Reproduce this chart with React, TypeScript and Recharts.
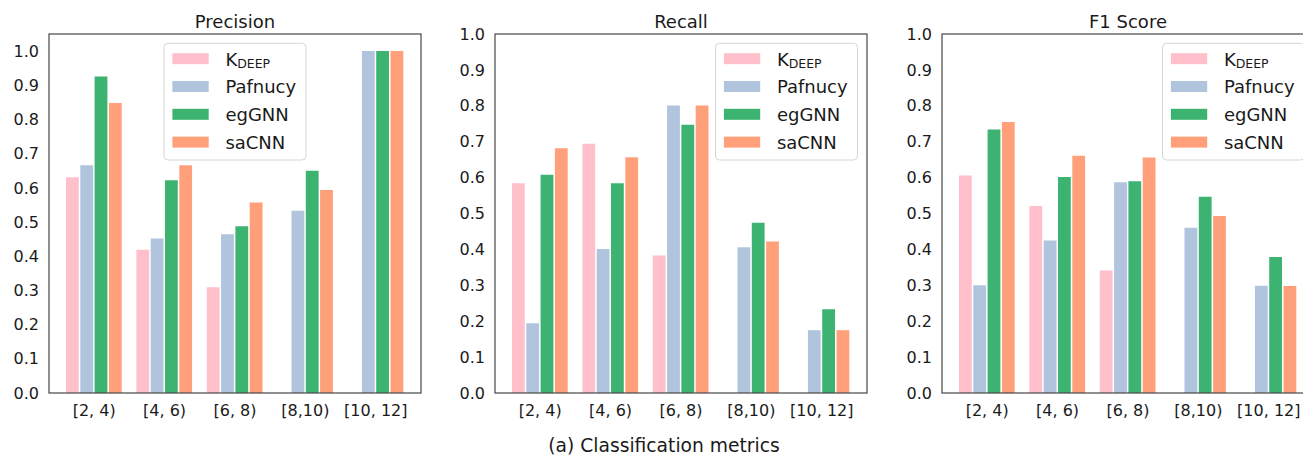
import { BarChart, Bar, XAxis, YAxis } from "recharts";

const bins = ["[2, 4)", "[4, 6)", "[6, 8)", "[8,10)", "[10, 12]"];
const models = ["KDEEP", "Pafnucy", "egGNN", "saCNN"];
const colors = ["#FFC0CB", "#B0C4DE", "#3CB371", "#FFA07A"];
const yTicks = [0, 0.1, 0.2, 0.3, 0.4, 0.5, 0.6, 0.7, 0.8, 0.9, 1.0];

// Precision
const precKdeep = [0.631, 0.419, 0.309, 0, 0];
const precPafnucy = [0.666, 0.452, 0.464, 0.533, 1.0];
const precEggnn = [0.926, 0.622, 0.488, 0.65, 1.0];
const precSacnn = [0.848, 0.666, 0.557, 0.594, 1.0];

// Recall
const recKdeep = [0.584, 0.694, 0.383, 0, 0];
const recPafnucy = [0.194, 0.401, 0.801, 0.406, 0.175];
const recEggnn = [0.608, 0.584, 0.747, 0.474, 0.233];
const recSacnn = [0.682, 0.657, 0.801, 0.422, 0.175];

// F1 score
const f1Kdeep = [0.606, 0.521, 0.341, 0, 0];
const f1Pafnucy = [0.3, 0.425, 0.587, 0.46, 0.299];
const f1Eggnn = [0.734, 0.602, 0.59, 0.547, 0.379];
const f1Sacnn = [0.755, 0.661, 0.656, 0.493, 0.298];

const font = "DejaVu Sans, sans-serif";
const spine = "#474747";

function rows(series: number[][]) {
  return bins.map((bin, i) => {
    const r: Record<string, any> = { bin };
    models.forEach((m, j) => (r[m] = series[j][i]));
    return r;
  });
}

const panels = [
  { title: "Precision", left: 0, yMax: 1.05, legend: "center", data: rows([precKdeep, precPafnucy, precEggnn, precSacnn]) },
  { title: "Recall", left: 446, yMax: 1.0, legend: "right", data: rows([recKdeep, recPafnucy, recEggnn, recSacnn]) },
  { title: "F1 Score", left: 893, yMax: 1.0, legend: "right", data: rows([f1Kdeep, f1Pafnucy, f1Eggnn, f1Sacnn]) },
];

const W = 429;
const H = 456;
const yAxisW = 49;
const xAxisH = 63;
const mRight = 8;
const mTop = 34;

function Panel({ p }: { p: (typeof panels)[number] }) {
  return (
    <div style={{ position: "absolute", left: p.left, top: 0 }}>
      <BarChart
        width={W}
        height={H}
        data={p.data}
        margin={{ top: mTop, right: mRight, bottom: 0, left: 0 }}
        barSize={12.8}
        barGap={1.5}
      >
        <XAxis
          dataKey="bin"
          height={xAxisH}
          interval={0}
          padding={{ left: 10, right: 10 }}
          tickLine={false}
          tickSize={0}
          tickMargin={12}
          axisLine={false}
          tick={{ fill: "#1a1a1a", fontSize: 16, fontFamily: font }}
        />
        <YAxis
          width={yAxisW}
          domain={[0, p.yMax]}
          ticks={yTicks}
          interval={0}
          tickLine={false}
          tickSize={0}
          tickMargin={10}
          tickFormatter={(v: number) => v.toFixed(1)}
          axisLine={false}
          tick={{ fill: "#1a1a1a", fontSize: 16, fontFamily: font }}
        />
        {models.map((m, i) => (
          <Bar key={m} dataKey={m} fill={colors[i]} isAnimationActive={false} />
        ))}
      </BarChart>
    </div>
  );
}

function Legend({ x, y }: { x: number; y: number }) {
  return (
    <g>
      <rect x={x} y={y} width={142} height={116.7} rx={4} fill="#fff" fillOpacity={0.8} stroke="#d6d6d6" />
      {models.map((m, i) => {
        const cy = y + 15.4 + i * 27.8;
        return (
          <g key={m}>
            <rect x={x + 8.4} y={cy - 5.5} width={36.3} height={11} fill={colors[i]} />
            {m === "KDEEP" ? (
              <text x={x + 61.4} y={cy + 7} fontSize={18} fontFamily={font} fill="#1a1a1a">
                K
                <tspan fontSize={12.5} dy={2}>
                  DEEP
                </tspan>
              </text>
            ) : (
              <text x={x + 61.4} y={cy + 6.6} fontSize={18} fontFamily={font} fill="#1a1a1a">
                {m}
              </text>
            )}
          </g>
        );
      })}
    </g>
  );
}

export default function App() {
  return (
    <div style={{ position: "absolute", left: 0, top: 0, width: 1303, height: 456, overflow: "hidden", background: "#fff" }}>
      {panels.map((p) => (
        <Panel key={p.title} p={p} />
      ))}
      <svg width={1303} height={456} style={{ position: "absolute", left: 0, top: 0, pointerEvents: "none" }}>
        {panels.map((p) => {
          const l = p.left + yAxisW;
          const r = p.left + W - mRight;
          const lx = p.legend === "center" ? (l + r) / 2 - 71 : r - 9.5 - 142;
          return (
            <g key={p.title}>
              <rect x={l} y={mTop} width={r - l} height={H - xAxisH - mTop} fill="none" stroke={spine} strokeWidth={1.2} />
              <text x={(l + r) / 2} y={28.3} textAnchor="middle" fontSize={18} fontFamily={font} fill="#1a1a1a">
                {p.title}
              </text>
              <Legend x={lx} y={43.3} />
            </g>
          );
        })}
        <text x={664} y={452} textAnchor="middle" fontSize={18.7} fontFamily={font} fill="#1a1a1a">
          (a) Classification metrics
        </text>
      </svg>
    </div>
  );
}
